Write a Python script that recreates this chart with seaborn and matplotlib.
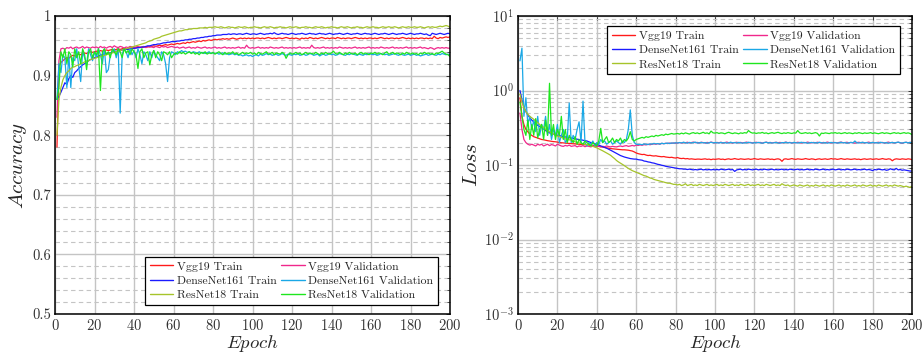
import pandas as pd
import matplotlib
matplotlib.use('Agg')
import matplotlib.pyplot as plt
import matplotlib.ticker as mticker
from matplotlib.lines import Line2D
import seaborn as sns

# ---------------- accuracy per epoch (epochs 1..200) ----------------
vgg_train_acc = [
    0.780, 0.915, 0.922, 0.925, 0.928, 0.930, 0.929, 0.932, 0.934, 0.933, 0.935, 0.936, 0.935, 0.937, 0.938, 0.937, 0.939, 0.940, 0.939, 0.940,
    0.941, 0.940, 0.942, 0.941, 0.942, 0.943, 0.942, 0.943, 0.944, 0.943, 0.944, 0.945, 0.944, 0.945, 0.946, 0.945, 0.946, 0.946, 0.947, 0.946,
    0.947, 0.947, 0.948, 0.947, 0.948, 0.948, 0.949, 0.948, 0.949, 0.950, 0.949, 0.950, 0.951, 0.950, 0.951, 0.952, 0.951, 0.952, 0.953, 0.952,
    0.953, 0.954, 0.953, 0.954, 0.955, 0.954, 0.956, 0.955, 0.956, 0.957, 0.956, 0.957, 0.958, 0.957, 0.959, 0.958, 0.959, 0.960, 0.959, 0.960,
    0.961, 0.960, 0.961, 0.961, 0.962, 0.961, 0.962, 0.961, 0.962, 0.963, 0.962, 0.961, 0.962, 0.963, 0.962, 0.963, 0.962, 0.963, 0.962, 0.963,
    0.962, 0.963, 0.963, 0.962, 0.963, 0.962, 0.963, 0.964, 0.963, 0.962, 0.963, 0.962, 0.963, 0.963, 0.962, 0.963, 0.964, 0.963, 0.962, 0.963,
    0.962, 0.963, 0.962, 0.961, 0.963, 0.962, 0.963, 0.962, 0.964, 0.963, 0.962, 0.963, 0.962, 0.963, 0.964, 0.963, 0.962, 0.963, 0.962, 0.963,
    0.963, 0.962, 0.964, 0.963, 0.962, 0.963, 0.962, 0.963, 0.963, 0.962, 0.963, 0.964, 0.963, 0.962, 0.963, 0.962, 0.963, 0.962, 0.963, 0.963,
    0.962, 0.963, 0.962, 0.963, 0.964, 0.963, 0.962, 0.963, 0.962, 0.963, 0.963, 0.962, 0.963, 0.962, 0.963, 0.964, 0.963, 0.962, 0.963, 0.962,
    0.963, 0.962, 0.963, 0.962, 0.963, 0.963, 0.962, 0.963, 0.962, 0.963, 0.962, 0.966, 0.963, 0.962, 0.964, 0.963, 0.964, 0.965, 0.964, 0.965,
]
vgg_val_acc = [
    0.830, 0.925, 0.945, 0.946, 0.944, 0.947, 0.946, 0.948, 0.945, 0.947, 0.948, 0.946, 0.947, 0.949, 0.946, 0.948, 0.947, 0.946, 0.948, 0.947,
    0.948, 0.946, 0.949, 0.947, 0.948, 0.946, 0.948, 0.949, 0.947, 0.950, 0.948, 0.947, 0.949, 0.948, 0.946, 0.948, 0.947, 0.949, 0.948, 0.947,
    0.948, 0.949, 0.947, 0.948, 0.949, 0.947, 0.948, 0.949, 0.948, 0.947, 0.949, 0.948, 0.947, 0.949, 0.948, 0.949, 0.947, 0.948, 0.949, 0.948,
    0.947, 0.948, 0.946, 0.947, 0.948, 0.946, 0.947, 0.948, 0.946, 0.947, 0.946, 0.948, 0.947, 0.946, 0.947, 0.948, 0.946, 0.947, 0.946, 0.947,
    0.948, 0.946, 0.947, 0.946, 0.947, 0.948, 0.946, 0.947, 0.946, 0.947, 0.946, 0.947, 0.948, 0.946, 0.947, 0.946, 0.951, 0.947, 0.946, 0.947,
    0.946, 0.947, 0.948, 0.946, 0.947, 0.946, 0.947, 0.946, 0.948, 0.947, 0.946, 0.947, 0.946, 0.947, 0.948, 0.946, 0.947, 0.946, 0.947, 0.946,
    0.947, 0.946, 0.947, 0.948, 0.946, 0.947, 0.946, 0.947, 0.946, 0.951, 0.947, 0.946, 0.947, 0.946, 0.947, 0.948, 0.946, 0.947, 0.946, 0.947,
    0.946, 0.947, 0.946, 0.948, 0.947, 0.946, 0.947, 0.946, 0.947, 0.946, 0.947, 0.948, 0.946, 0.947, 0.946, 0.947, 0.946, 0.947, 0.948, 0.946,
    0.947, 0.946, 0.947, 0.946, 0.948, 0.947, 0.946, 0.947, 0.946, 0.947, 0.948, 0.946, 0.947, 0.946, 0.947, 0.946, 0.947, 0.948, 0.946, 0.947,
    0.946, 0.947, 0.946, 0.947, 0.948, 0.946, 0.947, 0.946, 0.945, 0.947, 0.946, 0.944, 0.946, 0.947, 0.946, 0.947, 0.946, 0.947, 0.946, 0.946,
]
dense_train_acc = [
    0.860, 0.865, 0.872, 0.880, 0.888, 0.885, 0.895, 0.900, 0.897, 0.905, 0.908, 0.912, 0.915, 0.918, 0.920, 0.922, 0.925, 0.927, 0.928, 0.930,
    0.931, 0.933, 0.934, 0.935, 0.936, 0.937, 0.938, 0.938, 0.939, 0.940, 0.941, 0.941, 0.942, 0.943, 0.943, 0.944, 0.944, 0.945, 0.945, 0.946,
    0.946, 0.947, 0.947, 0.948, 0.948, 0.949, 0.950, 0.950, 0.951, 0.952, 0.952, 0.953, 0.953, 0.954, 0.955, 0.955, 0.956, 0.956, 0.957, 0.957,
    0.957, 0.958, 0.958, 0.959, 0.959, 0.960, 0.960, 0.961, 0.961, 0.962, 0.962, 0.963, 0.963, 0.964, 0.964, 0.965, 0.965, 0.966, 0.966, 0.967,
    0.967, 0.968, 0.968, 0.968, 0.969, 0.969, 0.969, 0.970, 0.969, 0.970, 0.970, 0.969, 0.970, 0.970, 0.969, 0.970, 0.971, 0.970, 0.969, 0.970,
    0.970, 0.969, 0.970, 0.971, 0.970, 0.969, 0.970, 0.970, 0.971, 0.970, 0.972, 0.970, 0.969, 0.970, 0.971, 0.970, 0.970, 0.969, 0.970, 0.971,
    0.970, 0.969, 0.970, 0.970, 0.971, 0.970, 0.969, 0.970, 0.971, 0.970, 0.970, 0.969, 0.970, 0.971, 0.970, 0.970, 0.969, 0.970, 0.971, 0.970,
    0.969, 0.970, 0.970, 0.971, 0.970, 0.969, 0.970, 0.971, 0.970, 0.969, 0.970, 0.970, 0.971, 0.970, 0.969, 0.970, 0.971, 0.970, 0.970, 0.969,
    0.970, 0.971, 0.970, 0.969, 0.970, 0.970, 0.971, 0.970, 0.969, 0.970, 0.971, 0.970, 0.969, 0.970, 0.970, 0.971, 0.970, 0.969, 0.970, 0.971,
    0.970, 0.969, 0.970, 0.970, 0.971, 0.970, 0.969, 0.970, 0.968, 0.967, 0.971, 0.970, 0.969, 0.970, 0.971, 0.970, 0.969, 0.970, 0.971, 0.970,
]
dense_val_acc = [
    0.860, 0.920, 0.905, 0.935, 0.930, 0.880, 0.935, 0.880, 0.930, 0.925, 0.945, 0.915, 0.890, 0.940, 0.930, 0.920, 0.945, 0.935, 0.925, 0.940,
    0.930, 0.945, 0.935, 0.920, 0.945, 0.905, 0.910, 0.935, 0.940, 0.945, 0.930, 0.945, 0.837, 0.935, 0.945, 0.940, 0.930, 0.945, 0.935, 0.942,
    0.930, 0.945, 0.935, 0.920, 0.940, 0.935, 0.925, 0.940, 0.930, 0.942, 0.935, 0.930, 0.925, 0.940, 0.935, 0.920, 0.890, 0.930, 0.940, 0.938,
    0.935, 0.940, 0.938, 0.942, 0.940, 0.941, 0.939, 0.940, 0.938, 0.940, 0.939, 0.937, 0.940, 0.938, 0.939, 0.937, 0.938, 0.940, 0.937, 0.938,
    0.937, 0.938, 0.936, 0.937, 0.938, 0.936, 0.937, 0.935, 0.936, 0.937, 0.935, 0.936, 0.934, 0.935, 0.933, 0.934, 0.935, 0.933, 0.934, 0.932,
    0.934, 0.935, 0.933, 0.936, 0.934, 0.935, 0.937, 0.935, 0.936, 0.934, 0.935, 0.936, 0.934, 0.935, 0.937, 0.935, 0.934, 0.936, 0.935, 0.934,
    0.936, 0.935, 0.937, 0.934, 0.935, 0.936, 0.934, 0.935, 0.937, 0.936, 0.934, 0.935, 0.936, 0.933, 0.935, 0.936, 0.934, 0.935, 0.937, 0.935,
    0.936, 0.934, 0.935, 0.937, 0.936, 0.935, 0.934, 0.936, 0.935, 0.937, 0.936, 0.935, 0.934, 0.936, 0.935, 0.934, 0.936, 0.935, 0.937, 0.936,
    0.935, 0.936, 0.934, 0.935, 0.937, 0.936, 0.935, 0.936, 0.934, 0.935, 0.936, 0.937, 0.935, 0.934, 0.936, 0.935, 0.934, 0.935, 0.936, 0.934,
    0.935, 0.936, 0.934, 0.935, 0.933, 0.934, 0.935, 0.936, 0.934, 0.935, 0.936, 0.935, 0.934, 0.936, 0.935, 0.937, 0.936, 0.935, 0.936, 0.935,
]
res_train_acc = [
    0.800, 0.860, 0.880, 0.893, 0.900, 0.905, 0.908, 0.912, 0.914, 0.915, 0.917, 0.918, 0.920, 0.921, 0.923, 0.924, 0.925, 0.927, 0.928, 0.929,
    0.930, 0.931, 0.932, 0.933, 0.934, 0.935, 0.936, 0.937, 0.938, 0.939, 0.940, 0.941, 0.942, 0.943, 0.944, 0.945, 0.946, 0.947, 0.948, 0.949,
    0.950, 0.951, 0.952, 0.953, 0.954, 0.955, 0.957, 0.958, 0.959, 0.961, 0.962, 0.963, 0.964, 0.966, 0.967, 0.968, 0.969, 0.970, 0.971, 0.972,
    0.973, 0.974, 0.975, 0.975, 0.976, 0.977, 0.977, 0.978, 0.978, 0.979, 0.979, 0.979, 0.980, 0.980, 0.980, 0.981, 0.980, 0.981, 0.981, 0.981,
    0.982, 0.981, 0.981, 0.982, 0.981, 0.980, 0.981, 0.982, 0.981, 0.981, 0.980, 0.981, 0.982, 0.981, 0.981, 0.982, 0.981, 0.980, 0.981, 0.981,
    0.982, 0.981, 0.981, 0.980, 0.981, 0.982, 0.981, 0.981, 0.982, 0.981, 0.980, 0.981, 0.981, 0.982, 0.981, 0.981, 0.980, 0.981, 0.982, 0.981,
    0.981, 0.982, 0.981, 0.980, 0.981, 0.981, 0.982, 0.981, 0.981, 0.980, 0.981, 0.982, 0.981, 0.981, 0.982, 0.981, 0.980, 0.981, 0.981, 0.982,
    0.981, 0.981, 0.980, 0.981, 0.982, 0.981, 0.981, 0.982, 0.981, 0.980, 0.981, 0.981, 0.982, 0.981, 0.981, 0.980, 0.981, 0.982, 0.981, 0.981,
    0.982, 0.981, 0.981, 0.980, 0.981, 0.982, 0.981, 0.981, 0.982, 0.981, 0.981, 0.982, 0.981, 0.980, 0.981, 0.982, 0.981, 0.981, 0.982, 0.981,
    0.981, 0.982, 0.981, 0.981, 0.982, 0.981, 0.980, 0.981, 0.982, 0.981, 0.982, 0.981, 0.981, 0.982, 0.983, 0.982, 0.983, 0.984, 0.983, 0.981,
]
res_val_acc = [
    0.860, 0.880, 0.940, 0.930, 0.945, 0.920, 0.940, 0.935, 0.915, 0.945, 0.930, 0.940, 0.920, 0.945, 0.935, 0.910, 0.940, 0.945, 0.930, 0.940,
    0.935, 0.945, 0.875, 0.940, 0.945, 0.935, 0.940, 0.930, 0.945, 0.940, 0.935, 0.945, 0.940, 0.930, 0.945, 0.938, 0.942, 0.935, 0.945, 0.940,
    0.935, 0.912, 0.940, 0.945, 0.930, 0.938, 0.940, 0.918, 0.935, 0.942, 0.930, 0.940, 0.935, 0.925, 0.940, 0.938, 0.935, 0.940, 0.930, 0.935,
    0.938, 0.936, 0.940, 0.937, 0.939, 0.936, 0.938, 0.940, 0.937, 0.939, 0.936, 0.938, 0.935, 0.939, 0.937, 0.940, 0.936, 0.938, 0.937, 0.939,
    0.936, 0.938, 0.940, 0.937, 0.935, 0.939, 0.936, 0.938, 0.937, 0.940, 0.936, 0.938, 0.935, 0.937, 0.939, 0.936, 0.938, 0.937, 0.939, 0.936,
    0.938, 0.935, 0.939, 0.937, 0.936, 0.938, 0.940, 0.936, 0.937, 0.939, 0.935, 0.938, 0.937, 0.936, 0.939, 0.937, 0.929, 0.935, 0.938, 0.936,
    0.937, 0.939, 0.936, 0.938, 0.935, 0.937, 0.939, 0.936, 0.938, 0.937, 0.936, 0.939, 0.937, 0.935, 0.938, 0.936, 0.939, 0.937, 0.936, 0.938,
    0.941, 0.937, 0.936, 0.939, 0.937, 0.935, 0.938, 0.936, 0.939, 0.937, 0.936, 0.938, 0.935, 0.937, 0.939, 0.936, 0.938, 0.937, 0.935, 0.938,
    0.937, 0.939, 0.936, 0.938, 0.937, 0.935, 0.938, 0.940, 0.936, 0.937, 0.939, 0.936, 0.938, 0.937, 0.935, 0.938, 0.936, 0.939, 0.937, 0.936,
    0.938, 0.936, 0.937, 0.935, 0.938, 0.936, 0.939, 0.937, 0.938, 0.936, 0.937, 0.935, 0.938, 0.937, 0.939, 0.941, 0.938, 0.936, 0.935, 0.932,
]

# ---------------- loss per epoch (epochs 1..200) ----------------
vgg_train_loss = [
    0.80, 0.45, 0.35, 0.30, 0.28, 0.26, 0.25, 0.24, 0.235, 0.23, 0.225, 0.22, 0.218, 0.215, 0.212, 0.21, 0.208, 0.206, 0.205, 0.203,
    0.200, 0.199, 0.198, 0.197, 0.196, 0.195, 0.194, 0.193, 0.192, 0.191, 0.190, 0.189, 0.188, 0.187, 0.186, 0.185, 0.184, 0.183, 0.182, 0.180,
    0.178, 0.176, 0.174, 0.172, 0.170, 0.168, 0.166, 0.165, 0.164, 0.163, 0.162, 0.161, 0.160, 0.160, 0.159, 0.158, 0.156, 0.154, 0.150, 0.145,
    0.142, 0.140, 0.138, 0.139, 0.136, 0.134, 0.135, 0.133, 0.132, 0.133, 0.131, 0.130, 0.129, 0.130, 0.128, 0.127, 0.126, 0.127, 0.125, 0.124,
    0.126, 0.123, 0.122, 0.123, 0.121, 0.122, 0.120, 0.121, 0.120, 0.119, 0.120, 0.120, 0.119, 0.120, 0.121, 0.119, 0.120, 0.118, 0.120, 0.119,
    0.120, 0.121, 0.119, 0.120, 0.118, 0.120, 0.121, 0.119, 0.120, 0.122, 0.120, 0.119, 0.121, 0.120, 0.119, 0.120, 0.121, 0.119, 0.120, 0.122,
    0.120, 0.119, 0.121, 0.120, 0.119, 0.120, 0.121, 0.119, 0.120, 0.118, 0.120, 0.121, 0.119, 0.112, 0.120, 0.121, 0.119, 0.120, 0.122, 0.120,
    0.119, 0.121, 0.120, 0.119, 0.120, 0.122, 0.120, 0.119, 0.121, 0.120, 0.118, 0.120, 0.121, 0.119, 0.120, 0.121, 0.119, 0.120, 0.122, 0.120,
    0.121, 0.119, 0.120, 0.122, 0.120, 0.119, 0.121, 0.120, 0.119, 0.120, 0.121, 0.119, 0.120, 0.118, 0.120, 0.121, 0.119, 0.120, 0.121, 0.119,
    0.120, 0.121, 0.119, 0.120, 0.122, 0.120, 0.119, 0.121, 0.120, 0.114, 0.119, 0.121, 0.120, 0.119, 0.121, 0.120, 0.119, 0.121, 0.120, 0.118,
]
vgg_val_loss = [
    0.50, 0.30, 0.22, 0.20, 0.19, 0.185, 0.19, 0.185, 0.18, 0.19, 0.185, 0.19, 0.18, 0.185, 0.19, 0.182, 0.188, 0.185, 0.18, 0.19,
    0.185, 0.18, 0.178, 0.183, 0.18, 0.185, 0.178, 0.18, 0.182, 0.175, 0.18, 0.178, 0.182, 0.176, 0.18, 0.178, 0.175, 0.18, 0.177, 0.18,
    0.178, 0.175, 0.178, 0.176, 0.18, 0.177, 0.175, 0.178, 0.176, 0.175, 0.178, 0.18, 0.177, 0.18, 0.182, 0.178, 0.18, 0.183, 0.18, 0.185,
    0.183, 0.186, 0.184, 0.188, 0.186, 0.19, 0.187, 0.19, 0.192, 0.19, 0.193, 0.191, 0.195, 0.193, 0.196, 0.194, 0.197, 0.195, 0.198, 0.196,
    0.198, 0.200, 0.197, 0.201, 0.199, 0.202, 0.198, 0.200, 0.203, 0.199, 0.201, 0.198, 0.202, 0.200, 0.197, 0.201, 0.199, 0.203, 0.200, 0.198,
    0.201, 0.199, 0.202, 0.198, 0.200, 0.203, 0.199, 0.201, 0.197, 0.200, 0.202, 0.199, 0.201, 0.198, 0.200, 0.203, 0.199, 0.201, 0.198, 0.200,
    0.202, 0.199, 0.201, 0.197, 0.200, 0.203, 0.199, 0.201, 0.198, 0.200, 0.202, 0.199, 0.201, 0.198, 0.200, 0.203, 0.199, 0.201, 0.198, 0.200,
    0.199, 0.202, 0.200, 0.198, 0.201, 0.199, 0.203, 0.200, 0.198, 0.201, 0.199, 0.202, 0.200, 0.197, 0.201, 0.199, 0.203, 0.200, 0.198, 0.201,
    0.200, 0.198, 0.201, 0.203, 0.199, 0.200, 0.202, 0.198, 0.201, 0.199, 0.197, 0.200, 0.202, 0.199, 0.201, 0.198, 0.200, 0.203, 0.199, 0.201,
    0.198, 0.200, 0.202, 0.199, 0.201, 0.197, 0.200, 0.203, 0.199, 0.201, 0.198, 0.200, 0.202, 0.199, 0.196, 0.200, 0.202, 0.199, 0.201, 0.200,
]
dense_train_loss = [
    1.00, 0.75, 0.60, 0.52, 0.47, 0.43, 0.40, 0.38, 0.36, 0.34, 0.33, 0.32, 0.30, 0.29, 0.28, 0.27, 0.265, 0.26, 0.255, 0.25,
    0.248, 0.245, 0.24, 0.238, 0.235, 0.232, 0.23, 0.228, 0.225, 0.222, 0.22, 0.218, 0.215, 0.212, 0.21, 0.205, 0.2, 0.197, 0.193, 0.19,
    0.185, 0.18, 0.176, 0.172, 0.168, 0.163, 0.158, 0.153, 0.148, 0.143, 0.138, 0.134, 0.131, 0.128, 0.126, 0.124, 0.122, 0.121, 0.12, 0.12,
    0.118, 0.117, 0.116, 0.113, 0.112, 0.110, 0.109, 0.107, 0.106, 0.104, 0.102, 0.101, 0.099, 0.098, 0.096, 0.095, 0.094, 0.093, 0.092, 0.091,
    0.090, 0.089, 0.089, 0.088, 0.088, 0.087, 0.088, 0.087, 0.086, 0.087, 0.086, 0.087, 0.088, 0.086, 0.087, 0.086, 0.087, 0.086, 0.087, 0.086,
    0.087, 0.086, 0.088, 0.087, 0.086, 0.087, 0.088, 0.086, 0.087, 0.082, 0.086, 0.087, 0.088, 0.086, 0.087, 0.086, 0.088, 0.087, 0.086, 0.087,
    0.088, 0.086, 0.087, 0.086, 0.088, 0.087, 0.086, 0.087, 0.088, 0.086, 0.087, 0.086, 0.087, 0.088, 0.086, 0.087, 0.086, 0.088, 0.087, 0.086,
    0.087, 0.088, 0.086, 0.087, 0.086, 0.087, 0.088, 0.086, 0.087, 0.086, 0.088, 0.087, 0.086, 0.087, 0.088, 0.086, 0.087, 0.086, 0.087, 0.088,
    0.086, 0.087, 0.088, 0.086, 0.087, 0.086, 0.088, 0.087, 0.086, 0.087, 0.088, 0.086, 0.087, 0.086, 0.087, 0.088, 0.086, 0.087, 0.086, 0.084,
    0.087, 0.086, 0.088, 0.087, 0.086, 0.087, 0.085, 0.086, 0.089, 0.087, 0.086, 0.090, 0.086, 0.087, 0.085, 0.086, 0.085, 0.084, 0.083, 0.083,
]
dense_val_loss = [
    2.50, 3.70, 0.45, 0.80, 0.35, 0.45, 0.30, 0.40, 0.28, 0.45, 0.25, 0.35, 0.30, 0.45, 0.25, 0.35, 0.22, 0.30, 0.25, 0.35,
    0.20, 0.25, 0.30, 0.20, 0.22, 0.68, 0.20, 0.25, 0.22, 0.30, 0.38, 0.20, 0.72, 0.20, 0.18, 0.20, 0.19, 0.21, 0.18, 0.20,
    0.19, 0.22, 0.20, 0.21, 0.19, 0.20, 0.21, 0.19, 0.20, 0.21, 0.20, 0.19, 0.21, 0.20, 0.22, 0.30, 0.55, 0.25, 0.20, 0.19,
    0.188, 0.19, 0.187, 0.192, 0.19, 0.188, 0.193, 0.19, 0.195, 0.192, 0.194, 0.19, 0.196, 0.193, 0.195, 0.197, 0.194, 0.198, 0.196, 0.199,
    0.197, 0.200, 0.198, 0.202, 0.199, 0.196, 0.201, 0.198, 0.200, 0.203, 0.197, 0.199, 0.201, 0.198, 0.200, 0.196, 0.199, 0.202, 0.198, 0.200,
    0.199, 0.197, 0.201, 0.198, 0.200, 0.196, 0.199, 0.202, 0.198, 0.200, 0.197, 0.201, 0.199, 0.196, 0.200, 0.198, 0.202, 0.199, 0.197, 0.200,
    0.198, 0.201, 0.199, 0.196, 0.200, 0.202, 0.198, 0.200, 0.197, 0.199, 0.201, 0.198, 0.196, 0.200, 0.199, 0.202, 0.198, 0.200, 0.197, 0.201,
    0.199, 0.197, 0.200, 0.202, 0.198, 0.200, 0.196, 0.199, 0.201, 0.198, 0.200, 0.197, 0.202, 0.199, 0.198, 0.200, 0.196, 0.199, 0.201, 0.198,
    0.200, 0.197, 0.199, 0.202, 0.198, 0.200, 0.196, 0.199, 0.201, 0.198, 0.210, 0.199, 0.197, 0.200, 0.202, 0.198, 0.200, 0.196, 0.199, 0.201,
    0.198, 0.200, 0.197, 0.202, 0.199, 0.198, 0.200, 0.196, 0.199, 0.201, 0.198, 0.200, 0.203, 0.199, 0.197, 0.200, 0.202, 0.198, 0.201, 0.200,
]
res_train_loss = [
    0.90, 0.70, 0.58, 0.52, 0.48, 0.45, 0.43, 0.41, 0.39, 0.37, 0.35, 0.33, 0.32, 0.30, 0.29, 0.28, 0.27, 0.26, 0.25, 0.245,
    0.24, 0.235, 0.23, 0.225, 0.22, 0.218, 0.215, 0.21, 0.205, 0.20, 0.198, 0.195, 0.192, 0.19, 0.188, 0.185, 0.182, 0.178, 0.174, 0.17,
    0.165, 0.16, 0.155, 0.15, 0.145, 0.14, 0.135, 0.128, 0.122, 0.115, 0.11, 0.106, 0.102, 0.098, 0.094, 0.09, 0.087, 0.084, 0.082, 0.08,
    0.078, 0.076, 0.074, 0.072, 0.071, 0.069, 0.067, 0.066, 0.064, 0.063, 0.062, 0.061, 0.060, 0.059, 0.058, 0.057, 0.057, 0.056, 0.055, 0.055,
    0.054, 0.055, 0.053, 0.054, 0.056, 0.053, 0.054, 0.055, 0.053, 0.054, 0.053, 0.055, 0.054, 0.053, 0.054, 0.055, 0.053, 0.054, 0.053, 0.054,
    0.055, 0.053, 0.054, 0.053, 0.055, 0.054, 0.053, 0.054, 0.055, 0.053, 0.054, 0.053, 0.055, 0.054, 0.053, 0.054, 0.055, 0.053, 0.054, 0.053,
    0.054, 0.055, 0.053, 0.054, 0.053, 0.055, 0.054, 0.053, 0.054, 0.055, 0.053, 0.054, 0.053, 0.056, 0.054, 0.053, 0.054, 0.052, 0.053, 0.054,
    0.053, 0.052, 0.054, 0.053, 0.052, 0.053, 0.054, 0.052, 0.053, 0.052, 0.054, 0.053, 0.052, 0.053, 0.054, 0.052, 0.053, 0.052, 0.054, 0.053,
    0.052, 0.053, 0.054, 0.052, 0.053, 0.052, 0.054, 0.053, 0.052, 0.053, 0.054, 0.052, 0.053, 0.052, 0.054, 0.053, 0.052, 0.053, 0.054, 0.052,
    0.053, 0.052, 0.054, 0.053, 0.052, 0.053, 0.054, 0.052, 0.053, 0.052, 0.054, 0.053, 0.052, 0.053, 0.052, 0.051, 0.052, 0.051, 0.050, 0.052,
]
res_val_loss = [
    0.70, 0.45, 0.30, 0.25, 0.40, 0.22, 0.35, 0.25, 0.42, 0.23, 0.30, 0.35, 0.22, 0.40, 0.25, 1.25, 0.25, 0.35, 0.22, 0.30,
    0.25, 0.45, 0.22, 0.30, 0.20, 0.25, 0.22, 0.20, 0.24, 0.19, 0.22, 0.20, 0.19, 0.21, 0.20, 0.19, 0.18, 0.20, 0.19, 0.18,
    0.21, 0.31, 0.20, 0.22, 0.24, 0.20, 0.21, 0.23, 0.20, 0.22, 0.21, 0.23, 0.20, 0.22, 0.21, 0.23, 0.28, 0.22, 0.21, 0.22,
    0.225, 0.23, 0.235, 0.23, 0.24, 0.235, 0.24, 0.245, 0.24, 0.25, 0.245, 0.25, 0.255, 0.25, 0.26, 0.255, 0.26, 0.265, 0.26, 0.262,
    0.265, 0.26, 0.268, 0.262, 0.27, 0.265, 0.26, 0.268, 0.272, 0.265, 0.27, 0.263, 0.268, 0.275, 0.266, 0.27, 0.262, 0.285, 0.27, 0.268,
    0.272, 0.265, 0.27, 0.268, 0.262, 0.27, 0.275, 0.268, 0.264, 0.27, 0.267, 0.262, 0.27, 0.266, 0.272, 0.268, 0.29, 0.275, 0.268, 0.27,
    0.265, 0.27, 0.268, 0.274, 0.266, 0.27, 0.263, 0.268, 0.272, 0.266, 0.27, 0.275, 0.268, 0.264, 0.27, 0.266, 0.272, 0.268, 0.265, 0.27,
    0.268, 0.29, 0.27, 0.265, 0.268, 0.272, 0.266, 0.27, 0.264, 0.268, 0.272, 0.266, 0.245, 0.268, 0.265, 0.27, 0.267, 0.264, 0.27, 0.268,
    0.272, 0.266, 0.27, 0.264, 0.268, 0.272, 0.265, 0.27, 0.267, 0.263, 0.27, 0.266, 0.272, 0.268, 0.264, 0.27, 0.266, 0.268, 0.272, 0.265,
    0.27, 0.266, 0.263, 0.268, 0.272, 0.265, 0.27, 0.267, 0.263, 0.268, 0.272, 0.266, 0.27, 0.264, 0.268, 0.272, 0.266, 0.27, 0.265, 0.255,
]

series_names = ['Vgg19 Train', 'Vgg19 Validation', 'DenseNet161 Train',
                'DenseNet161 Validation', 'ResNet18 Train', 'ResNet18 Validation']
series_colors = ['#ff1a1a', '#f0288c', '#1a1aff', '#1aa8e6', '#a6c42a', '#1ee61e']
acc_ticks = [0.5, 0.6, 0.7, 0.8, 0.9, 1.0]
acc_tick_labels = ['0.5', '0.6', '0.7', '0.8', '0.9', '1']
epoch_ticks = list(range(0, 201, 20))

acc_data = [vgg_train_acc, vgg_val_acc, dense_train_acc, dense_val_acc, res_train_acc, res_val_acc]
loss_data = [vgg_train_loss, vgg_val_loss, dense_train_loss, dense_val_loss, res_train_loss, res_val_loss]


def long_frame(lists, col):
    parts = []
    for name, vals in zip(series_names, lists):
        parts.append(pd.DataFrame({'Epoch': range(1, len(vals) + 1), col: vals, 'Series': name}))
    return pd.concat(parts, ignore_index=True)


acc_df = long_frame(acc_data, 'Accuracy')
loss_df = long_frame(loss_data, 'Loss')
palette = dict(zip(series_names, series_colors))

sns.set_theme(style='white')
plt.rcParams['font.family'] = 'serif'
plt.rcParams['font.serif'] = ['cmr10']
plt.rcParams['mathtext.fontset'] = 'cm'
plt.rcParams['axes.unicode_minus'] = False
plt.rcParams['axes.formatter.use_mathtext'] = True

fig = plt.figure(figsize=(9.22, 3.54), dpi=100)
ax1 = fig.add_axes([55 / 922, 1 - 314 / 354, 395 / 922, 298 / 354])
ax2 = fig.add_axes([518 / 922, 1 - 314 / 354, 394 / 922, 298 / 354])

sns.lineplot(data=acc_df, x='Epoch', y='Accuracy', hue='Series', hue_order=series_names,
             palette=palette, linewidth=0.9, legend=False, ax=ax1)
sns.lineplot(data=loss_df, x='Epoch', y='Loss', hue='Series', hue_order=series_names,
             palette=palette, linewidth=0.9, legend=False, ax=ax2)

ax1.set_xlim(0, 200)
ax1.set_ylim(0.5, 1.0)
ax1.set_yticks(acc_ticks)
ax1.set_yticklabels(acc_tick_labels)
ax1.yaxis.set_minor_locator(mticker.MultipleLocator(0.02))
ax1.set_ylabel('$Accuracy$', fontsize=15, labelpad=2)

ax2.set_yscale('log')
ax2.set_xlim(0, 200)
ax2.set_ylim(1e-3, 1e1)
ax2.yaxis.set_major_locator(mticker.LogLocator(base=10, numticks=10))
ax2.yaxis.set_minor_locator(mticker.LogLocator(base=10, subs=range(2, 10), numticks=20))
ax2.yaxis.set_minor_formatter(mticker.NullFormatter())
ax2.set_ylabel('$Loss$', fontsize=15, labelpad=2)

# legend rows: train / validation side by side
order = [0, 2, 4, 1, 3, 5]
handles = [Line2D([], [], color=series_colors[i], lw=1.0) for i in order]
labels = [series_names[i] for i in order]

for ax in (ax1, ax2):
    ax.set_xticks(epoch_ticks)
    ax.set_xlabel('$Epoch$', fontsize=13.5, labelpad=0)
    ax.grid(which='major', color='#c4c4c4', lw=1.0, ls='-')
    ax.grid(which='minor', axis='y', color='#c4c4c4', lw=0.8, ls=(0, (4, 3)))
    ax.tick_params(which='both', direction='in', top=True, right=True, labelsize=10.5,
                   colors='#222222', labelcolor='#333333', pad=3)
    ax.tick_params(which='major', length=3, width=0.6)
    ax.tick_params(which='minor', length=2, width=0.5)
    ax.set_axisbelow(True)
    for s in ax.spines.values():
        s.set_color('black')
        s.set_linewidth(1.1)

leg_kw = dict(ncol=2, frameon=True, fancybox=False, framealpha=1, edgecolor='black',
              fontsize=8.5, borderpad=0.4, handlelength=2.0, handletextpad=0.3,
              columnspacing=0.4, labelspacing=0.35, borderaxespad=0)
leg1 = ax1.legend(handles, labels, loc='lower right', bbox_to_anchor=(0.97, 0.03), **leg_kw)
leg2 = ax2.legend(handles, labels, loc='upper right', bbox_to_anchor=(0.97, 0.967), **leg_kw)
for leg in (leg1, leg2):
    leg.get_frame().set_linewidth(0.9)

fig.savefig('out.png', dpi=100)
